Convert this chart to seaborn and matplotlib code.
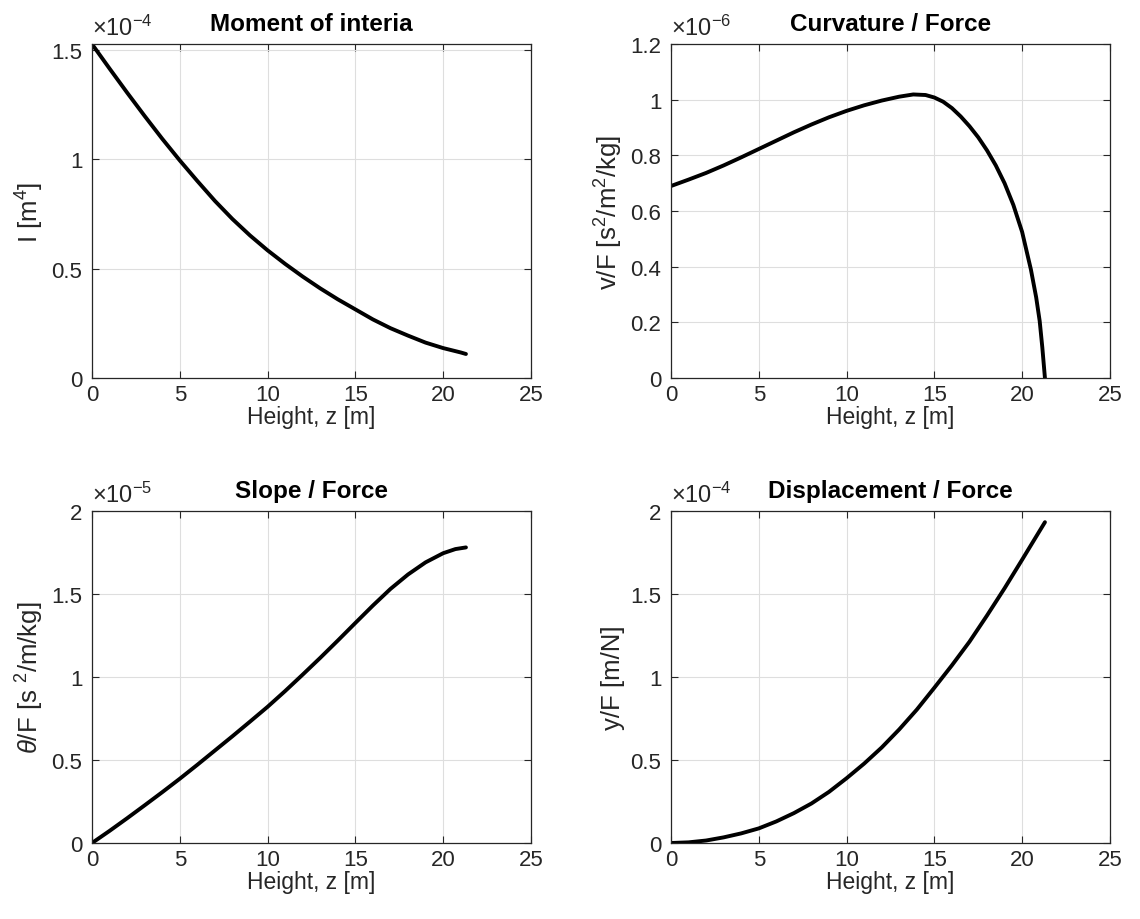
import numpy as np
import pandas as pd
import matplotlib
matplotlib.use("Agg")
import matplotlib.pyplot as plt
from matplotlib.ticker import FuncFormatter
import seaborn as sns

# ---- data ----
z_I = [0, 1, 2, 3, 4, 5, 6, 7, 8, 9, 10, 11, 12, 13, 14, 15, 16, 17, 18, 19, 20, 21, 21.3]
I_vals = [1.527, 1.415, 1.305, 1.198, 1.094, 0.995, 0.901, 0.81, 0.727, 0.652, 0.584,
          0.522, 0.464, 0.410, 0.360, 0.314, 0.268, 0.228, 0.194, 0.162, 0.137, 0.117, 0.11]  # x1e-4

z_v = [0, 1, 2, 3, 4, 5, 6, 7, 8, 9, 10, 11, 12, 13, 13.8, 14.5, 15, 15.5, 16, 16.5, 17,
       17.5, 18, 18.5, 19, 19.5, 20, 20.5, 20.8, 21.0, 21.15, 21.3]
v_vals = [0.690, 0.713, 0.737, 0.764, 0.793, 0.823, 0.853, 0.883, 0.911, 0.937, 0.960,
          0.980, 0.997, 1.011, 1.019, 1.017, 1.008, 0.993, 0.970, 0.940, 0.905, 0.865,
          0.818, 0.764, 0.700, 0.622, 0.525, 0.390, 0.290, 0.205, 0.110, 0.0]  # x1e-6

z_t = [0, 1, 2, 3, 4, 5, 6, 7, 8, 9, 10, 11, 12, 13, 14, 15, 16, 17, 18, 19, 20, 20.7, 21.3]
t_vals = [0, 0.073, 0.149, 0.227, 0.306, 0.387, 0.471, 0.557, 0.643, 0.731, 0.820, 0.915,
          1.014, 1.115, 1.219, 1.325, 1.430, 1.530, 1.617, 1.690, 1.745, 1.770, 1.780]  # x1e-5

z_y = [0, 1, 2, 3, 4, 5, 6, 7, 8, 9, 10, 11, 12, 13, 14, 15, 16, 17, 18, 19, 20, 21, 21.3]
y_vals = [0, 0.004, 0.015, 0.034, 0.058, 0.088, 0.13, 0.18, 0.238, 0.308, 0.39, 0.478,
          0.575, 0.684, 0.803, 0.935, 1.07, 1.212, 1.37, 1.534, 1.706, 1.88, 1.932]  # x1e-4

titles = ["Moment of interia", "Curvature / Force", "Slope / Force", "Displacement / Force"]
ylabels = [r"I [m$^4$]", r"v/F [s$^2$/m$^2$/kg]", r"$\mathit{\theta}$/F [s $^2$/m/kg]", "y/F [m/N]"]
xlabel = "Height, z [m]"
exps = [-4, -6, -5, -4]
ylims = [(0, 1.527), (0, 1.2), (0, 2), (0, 2)]
ysteps = [0.5, 0.2, 0.5, 0.5]
x_ticks = [0, 5, 10, 15, 20, 25]

sns.set_theme(style="ticks")
plt.rcParams["font.family"] = ["Liberation Sans", "DejaVu Sans"]
plt.rcParams["mathtext.fontset"] = "custom"
plt.rcParams["mathtext.rm"] = "Liberation Sans"
plt.rcParams["mathtext.it"] = "Liberation Sans:italic"
plt.rcParams["mathtext.bf"] = "Liberation Sans:bold"
plt.rcParams["mathtext.default"] = "regular"

fig = plt.figure(figsize=(11.4, 9.2), dpi=100)
positions = [
    [0.0807, 0.588, 0.385, 0.363],
    [0.5886, 0.588, 0.385, 0.363],
    [0.0807, 0.0826, 0.385, 0.361],
    [0.5886, 0.0826, 0.385, 0.361],
]
series = [(z_I, I_vals), (z_v, v_vals), (z_t, t_vals), (z_y, y_vals)]

dark = "#262626"
for i, (pos, (zs, vs)) in enumerate(zip(positions, series)):
    ax = fig.add_axes(pos)
    scale = 10.0 ** exps[i]
    df = pd.DataFrame({"z": zs, "val": np.array(vs) * scale})
    sns.lineplot(data=df, x="z", y="val", ax=ax, color="black", lw=2.8,
                 estimator=None, sort=False)
    ax.set_xlim(0, 25)
    ax.set_xticks(x_ticks)
    lo, hi = ylims[i]
    ax.set_ylim(lo * scale, hi * scale)
    ticks = np.arange(0, hi + 1e-9, ysteps[i]) * scale
    ax.set_yticks(ticks)
    ax.yaxis.set_major_formatter(FuncFormatter(lambda v, p, s=scale: f"{v / s:g}"))
    ax.grid(True, color="#dedede", lw=0.8)
    ax.set_axisbelow(True)
    for sp in ax.spines.values():
        sp.set_color(dark)
        sp.set_linewidth(0.9)
        sp.set_visible(True)
    ax.tick_params(direction="in", top=True, right=True, length=5, width=0.8,
                   colors=dark, labelsize=16)
    ax.tick_params(axis="y", pad=7)
    ax.tick_params(axis="x", pad=4)
    ax.set_xlabel(xlabel, fontsize=16.5, color=dark, labelpad=0)
    ax.set_ylabel(ylabels[i], fontsize=18.5, color=dark, labelpad=4)
    ax.set_title(titles[i], fontsize=17.5, fontweight="bold", color="black", pad=10)
    ax.annotate(r"$\times10^{%d}$" % exps[i], xy=(0, 1), xycoords="axes fraction",
                xytext=(0, 9), textcoords="offset pixels",
                ha="left", va="baseline", fontsize=17, color=dark)

fig.savefig("out.png", dpi=100)
